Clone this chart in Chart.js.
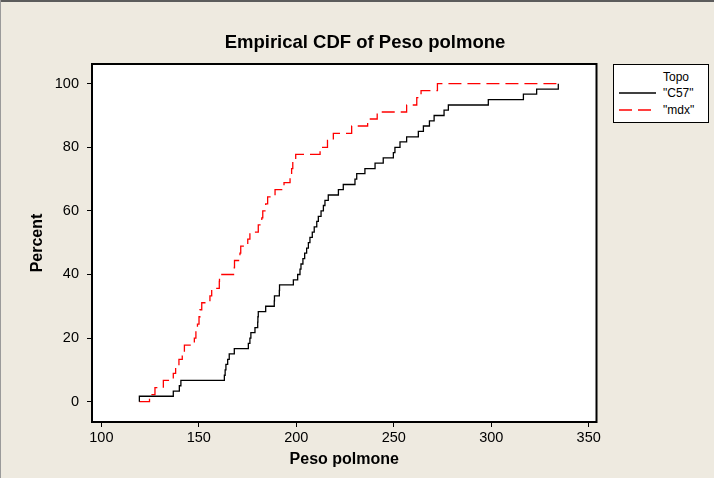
<!DOCTYPE html>
<html>
<head>
<meta charset="utf-8">
<title>Empirical CDF of Peso polmone</title>
<script src="https://cdn.jsdelivr.net/npm/chart.js@4.4.1/dist/chart.umd.min.js"></script>
<style>
  html, body { margin: 0; padding: 0; background: #eeeae0; }
  #wrap { position: relative; width: 714px; height: 478px; overflow: hidden; }
  #chart { position: absolute; left: 0; top: 0; }
  .title {
    position: absolute; left: 0; top: 31px; width: 730px; text-align: center;
    font: bold 18.5px 'Liberation Sans', Arial, sans-serif; line-height: 22px; color: #000;
  }
  .legend {
    position: absolute; left: 613px; top: 64px; width: 94px; height: 57px;
    background: #fff; border: 1px solid #000;
    font: 12px 'Liberation Sans', Arial, sans-serif; color: #000;
  }
  .legend .txt { position: absolute; left: 49px; line-height: 14px; white-space: nowrap; }
  .legend svg { position: absolute; left: 5px; }
</style>
</head>
<body>
<div id="wrap">
  <canvas id="chart" width="714" height="478"></canvas>
  <div class="title">Empirical CDF of Peso polmone</div>
  <div class="legend">
    <div class="txt" style="top:5px">Topo</div>
    <svg width="37" height="4" style="top:26px"><line x1="0" y1="2" x2="37" y2="2" stroke="#000" stroke-width="1.3"/></svg>
    <div class="txt" style="top:21px">"C57"</div>
    <svg width="37" height="4" style="top:43px"><line x1="0" y1="2" x2="37" y2="2" stroke="#f00" stroke-width="1.3" stroke-dasharray="13 6"/></svg>
    <div class="txt" style="top:38px">"mdx"</div>
  </div>
</div>
<script>
    // Axis ticks
    const xTickValues = [100, 150, 200, 250, 300, 350];
    const yTickValues = [0, 20, 40, 60, 80, 100];

    // C57: step positions (Peso polmone) and cumulative percent
    const c57Peso = [119.5, 119.5, 136.9, 140.0, 140.8, 163.1, 163.5, 163.9, 164.8, 165.6,
      168.2, 175.4, 176.2, 176.7, 178.8, 180.2, 180.3, 180.5, 184.3, 188.7,
      188.8, 191.3, 191.4, 198.5, 200.7, 201.9, 202.4, 203.4, 204.3, 205.3,
      206.2, 207.0, 208.2, 209.2, 210.5, 211.3, 212.7, 213.9, 214.7, 216.4,
      221.6, 224.1, 230.1, 231.0, 235.2, 240.4, 244.6, 249.8, 250.6, 253.2,
      256.6, 262.6, 265.2, 268.3, 270.7, 275.8, 278.0, 298.5, 316.5, 323.3, 334.4];
    const c57Percent = [0, 1.7, 3.3, 5.0, 6.7, 8.3, 10.0, 11.7, 13.3, 15.0,
      16.7, 18.3, 20.0, 21.7, 23.3, 25.0, 26.7, 28.3, 30.0, 31.7,
      33.3, 35.0, 36.7, 38.3, 40.0, 41.7, 43.3, 45.0, 46.7, 48.3,
      50.0, 51.7, 53.3, 55.0, 56.7, 58.3, 60.0, 61.7, 63.3, 65.0,
      66.7, 68.3, 70.0, 71.7, 73.3, 75.0, 76.7, 78.3, 80.0, 81.7,
      83.3, 85.0, 86.7, 88.3, 90.0, 91.7, 93.3, 95.0, 96.7, 98.3, 100];

    // mdx
    const mdxPeso = [119.5, 124.7, 127.5, 131.8, 136.9, 138.1, 139.8, 141.5, 142.6, 147.7,
      148.5, 149.3, 150.1, 150.6, 151.5, 155.7, 156.6, 160.5, 160.6, 168.2,
      168.3, 171.1, 171.5, 175.1, 176.2, 180.5, 182.3, 182.8, 184.3, 185.3,
      189.1, 193.7, 196.8, 197.6, 198.2, 199.7, 212.2, 216.0, 219.0, 228.4,
      236.6, 241.5, 256.6, 261.8, 264.0, 272.4, 334.4];
    const mdxPercent = [0, 2.2, 4.4, 6.7, 8.9, 11.1, 13.3, 15.6, 17.8, 20.0,
      22.2, 24.4, 26.7, 28.9, 31.1, 33.3, 35.6, 37.8, 40.0, 42.2,
      44.4, 46.7, 48.9, 51.1, 53.3, 55.6, 57.8, 60.0, 62.2, 64.4,
      66.7, 68.9, 71.1, 73.3, 75.6, 77.8, 80.0, 82.2, 84.4, 86.7,
      88.9, 91.1, 93.3, 95.6, 97.8, 100, 100];

    const FONT = "'Liberation Sans', Arial, sans-serif";

    function toPoints(xs, ys) {
      return xs.map((x, i) => ({ x: x, y: ys[i] }));
    }

    // White plot area, outer frame, and box round the data region
    const plotFrame = {
      id: 'plotFrame',
      beforeDraw(chart) {
        const { ctx, chartArea: a } = chart;
        ctx.save();
        ctx.fillStyle = '#ffffff';
        ctx.fillRect(a.left, a.top, a.right - a.left, a.bottom - a.top);
        ctx.fillStyle = '#5c5c5c';
        ctx.fillRect(0, 0, chart.width, 2);
        ctx.fillStyle = '#9a9a9a';
        ctx.fillRect(0, 0, 1, chart.height);
        ctx.restore();
      },
      afterDatasetsDraw(chart) {
        const { ctx, chartArea: a } = chart;
        ctx.save();
        ctx.strokeStyle = '#000';
        ctx.lineWidth = 2;
        ctx.strokeRect(a.left, a.top, a.right - a.left, a.bottom - a.top);
        ctx.restore();
      }
    };

    function init() {
      Chart.defaults.font.family = FONT;
      Chart.defaults.color = '#000';

      new Chart(document.getElementById('chart'), {
        type: 'line',
        data: {
          datasets: [
            {
              label: '"C57"',
              data: toPoints(c57Peso, c57Percent),
              borderColor: '#000000',
              borderWidth: 1.3,
              pointRadius: 0,
              stepped: true,
              fill: false
            },
            {
              label: '"mdx"',
              data: toPoints(mdxPeso, mdxPercent),
              borderColor: '#ff0000',
              borderWidth: 1.3,
              borderDash: [13, 6],
              pointRadius: 0,
              stepped: true,
              fill: false
            }
          ]
        },
        options: {
          responsive: false,
          devicePixelRatio: 1,
          animation: false,
          layout: { padding: { top: 64, right: 117.5, bottom: 0, left: 0 } },
          plugins: {
            legend: { display: false },
            title: { display: false },
            tooltip: { enabled: false }
          },
          scales: {
            x: {
              type: 'linear',
              min: 95.2,
              max: 354,
              afterBuildTicks: (s) => { s.ticks = xTickValues.map(v => ({ value: v })); },
              afterFit: (s) => { s.height = 56; },
              grid: { drawOnChartArea: false, drawTicks: true, tickLength: 5, tickColor: '#000', tickWidth: 1 },
              border: { display: false },
              ticks: { color: '#000', font: { size: 14.5 }, padding: 2, maxRotation: 0 },
              title: {
                display: true, text: 'Peso polmone', color: '#000',
                font: { size: 16, weight: 'bold' }, padding: { top: 0, bottom: 9 }
              }
            },
            y: {
              type: 'linear',
              min: -6.4,
              max: 106.2,
              afterBuildTicks: (s) => { s.ticks = yTickValues.map(v => ({ value: v })); },
              afterFit: (s) => { s.width = 92; },
              grid: { drawOnChartArea: false, drawTicks: true, tickLength: 5, tickColor: '#000', tickWidth: 1 },
              border: { display: false },
              ticks: { color: '#000', font: { size: 14.5 }, padding: 8 },
              title: {
                display: true, text: 'Percent', color: '#000',
                font: { size: 16, weight: 'bold' }, padding: { top: 28, bottom: 0 }
              }
            }
          }
        },
        plugins: [plotFrame]
      });
    }

    if (document.readyState === 'loading') {
      document.addEventListener('DOMContentLoaded', init);
    } else {
      init();
    }
</script>
</body>
</html>
